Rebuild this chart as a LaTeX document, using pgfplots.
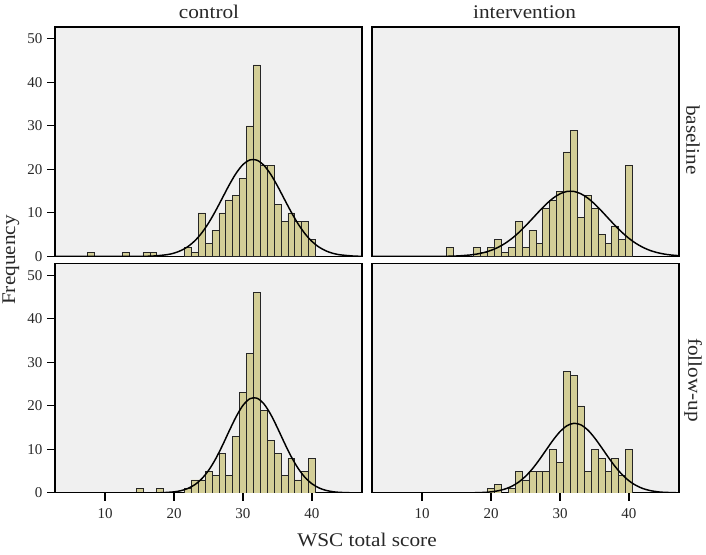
\documentclass[border=0pt]{standalone}
\usepackage{fontspec}
\setmainfont{Liberation Serif}[FakeStretch=1.1]
\newfontfamily\tickfont{Liberation Serif}
\usepackage{pgfplots}
\pgfplotsset{compat=1.18}
\definecolor{bgc}{RGB}{240,240,240}
\definecolor{barc}{RGB}{211,206,151}
\definecolor{txt}{RGB}{40,40,40}
\pgfplotsset{
  panel/.style={
    scale only axis, width=230.25pt, height=172.1pt,
    xmin=2.75, xmax=47.25, ymin=0, ymax=52.7,
    axis background/.style={fill=bgc},
    axis line style={black, line width=0.8pt},
    tick style={black, line width=0.8pt},
    tick align=outside, major tick length=6pt,
    xtick={10,20,30,40}, ytick={0,10,20,30,40,50},
    tick pos=left,
    /pgf/number format/assume math mode=true,
    ticklabel style={font=\tickfont\fontsize{11.25}{12}\selectfont, text=txt},
    xticklabel style={yshift=-2pt},
  },
  hbar/.style={ybar, bar width=1, bar shift=0pt, fill=barc, draw=black!85, line width=0.5pt},
  ncurve/.style={smooth, black, line width=1.1pt, mark=none},
}
\begin{document}
\begin{tikzpicture}
\useasboundingbox (0,0) rectangle (529.5pt,-415.5pt);
% control, baseline
\begin{axis}[panel, at={(41.25pt,-20.25pt)}, anchor=north west, xtick=\empty]
\addplot[hbar] coordinates {(8,1)(13,1)(16,1)(17,1)(22,2)(23,1)(24,10)(25,3)(26,6)(27,10)(28,13)(29,14)(30,18)(31,30)(32,44)(33,21)(34,21)(35,12)(36,8)(37,10)(38,8)(39,8)(40,4)};
\addplot[ncurve] coordinates {(2.75,0)(8,0)(12,0.002)(15,0.022)(17,0.106)(19,0.419)(20,0.774)(21,1.356)(22,2.256)(23,3.57)(24,5.37)(25,7.66)(26,10.40)(27,13.40)(28,16.42)(29,19.10)(30,21.12)(31,22.18)(32,22.13)(33,20.99)(34,18.91)(35,16.18)(36,13.16)(37,10.17)(38,7.46)(39,5.20)(40,3.45)(41,2.17)(42,1.30)(43,0.738)(44,0.398)(46,0.100)(47.25,0.039)};
\end{axis}
% intervention, baseline
\begin{axis}[panel, at={(279pt,-20.25pt)}, anchor=north west, xtick=\empty, ytick=\empty]
\addplot[hbar] coordinates {(14,2)(18,2)(19,1)(20,2)(21,4)(22,1)(23,2)(24,8)(25,2)(26,6)(27,3)(28,11)(29,13)(30,15)(31,24)(32,29)(33,9)(34,14)(35,11)(36,5)(37,3)(38,7)(39,4)(40,21)};
\addplot[ncurve] coordinates {(2.75,0)(7,0)(10,0.004)(13,0.033)(15,0.114)(17,0.347)(18,0.572)(19,0.911)(20,1.40)(21,2.08)(22,2.97)(23,4.10)(24,5.46)(25,7.02)(26,8.70)(27,10.41)(28,12.02)(29,13.39)(30,14.39)(31,14.93)(32,14.94)(33,14.42)(34,13.44)(35,12.08)(36,10.48)(37,8.77)(38,7.08)(39,5.52)(40,4.15)(41,3.01)(42,2.11)(43,1.42)(44,0.928)(45,0.584)(46,0.354)(47.25,0.185)};
\end{axis}
% control, follow-up
\begin{axis}[panel, at={(41.25pt,-197.6pt)}, anchor=north west]
\addplot[hbar] coordinates {(15,1)(18,1)(22,1)(23,3)(24,3)(25,5)(26,4)(27,9)(28,4)(29,13)(30,23)(31,32)(32,46)(33,19)(34,12)(35,9)(36,4)(37,8)(38,3)(39,5)(40,8)};
\addplot[ncurve] coordinates {(2.75,0)(10,0)(15,0.002)(18,0.047)(20,0.251)(21,0.524)(22,1.025)(23,1.88)(24,3.22)(25,5.15)(26,7.73)(27,10.84)(28,14.24)(29,17.50)(30,20.12)(31,21.64)(32,21.78)(33,20.52)(34,18.09)(35,14.92)(36,11.51)(37,8.32)(38,5.62)(39,3.55)(40,2.10)(41,1.163)(42,0.603)(43,0.293)(44,0.133)(46,0.022)(47.25,0.005)};
\end{axis}
% intervention, follow-up
\begin{axis}[panel, at={(279pt,-197.6pt)}, anchor=north west, ytick=\empty]
\addplot[hbar] coordinates {(20,1)(21,2)(23,1)(24,5)(25,3)(26,5)(27,5)(28,5)(29,10)(30,7)(31,28)(32,27)(33,20)(34,5)(35,10)(36,8)(37,5)(38,8)(39,4)(40,10)};
\addplot[ncurve] coordinates {(2.75,0)(10,0)(14,0.003)(17,0.025)(19,0.124)(20,0.252)(21,0.485)(22,0.885)(23,1.52)(24,2.48)(25,3.81)(26,5.54)(27,7.62)(28,9.89)(29,12.14)(30,14.08)(31,15.43)(32,15.99)(33,15.66)(34,14.50)(35,12.68)(36,10.49)(37,8.20)(38,6.05)(39,4.23)(40,2.79)(41,1.74)(42,1.02)(43,0.570)(44,0.300)(45,0.150)(47.25,0.026)};
\end{axis}
\begin{scope}[every node/.style={font=\fontsize{14.5}{16}\selectfont, inner sep=0pt, text=txt}]
\node[anchor=base] at (156.75pt,-13.5pt) {control};
\node[anchor=base] at (393.4pt,-13.5pt) {intervention};
\node[rotate=-90] at (519.75pt,-105pt) {baseline};
\node[rotate=-90] at (519.75pt,-285pt) {follow-up};
\node[rotate=90] at (8.25pt,-195pt) {Frequency};
\node at (275.25pt,-405pt) {WSC total score};
\end{scope}
\end{tikzpicture}
\end{document}
